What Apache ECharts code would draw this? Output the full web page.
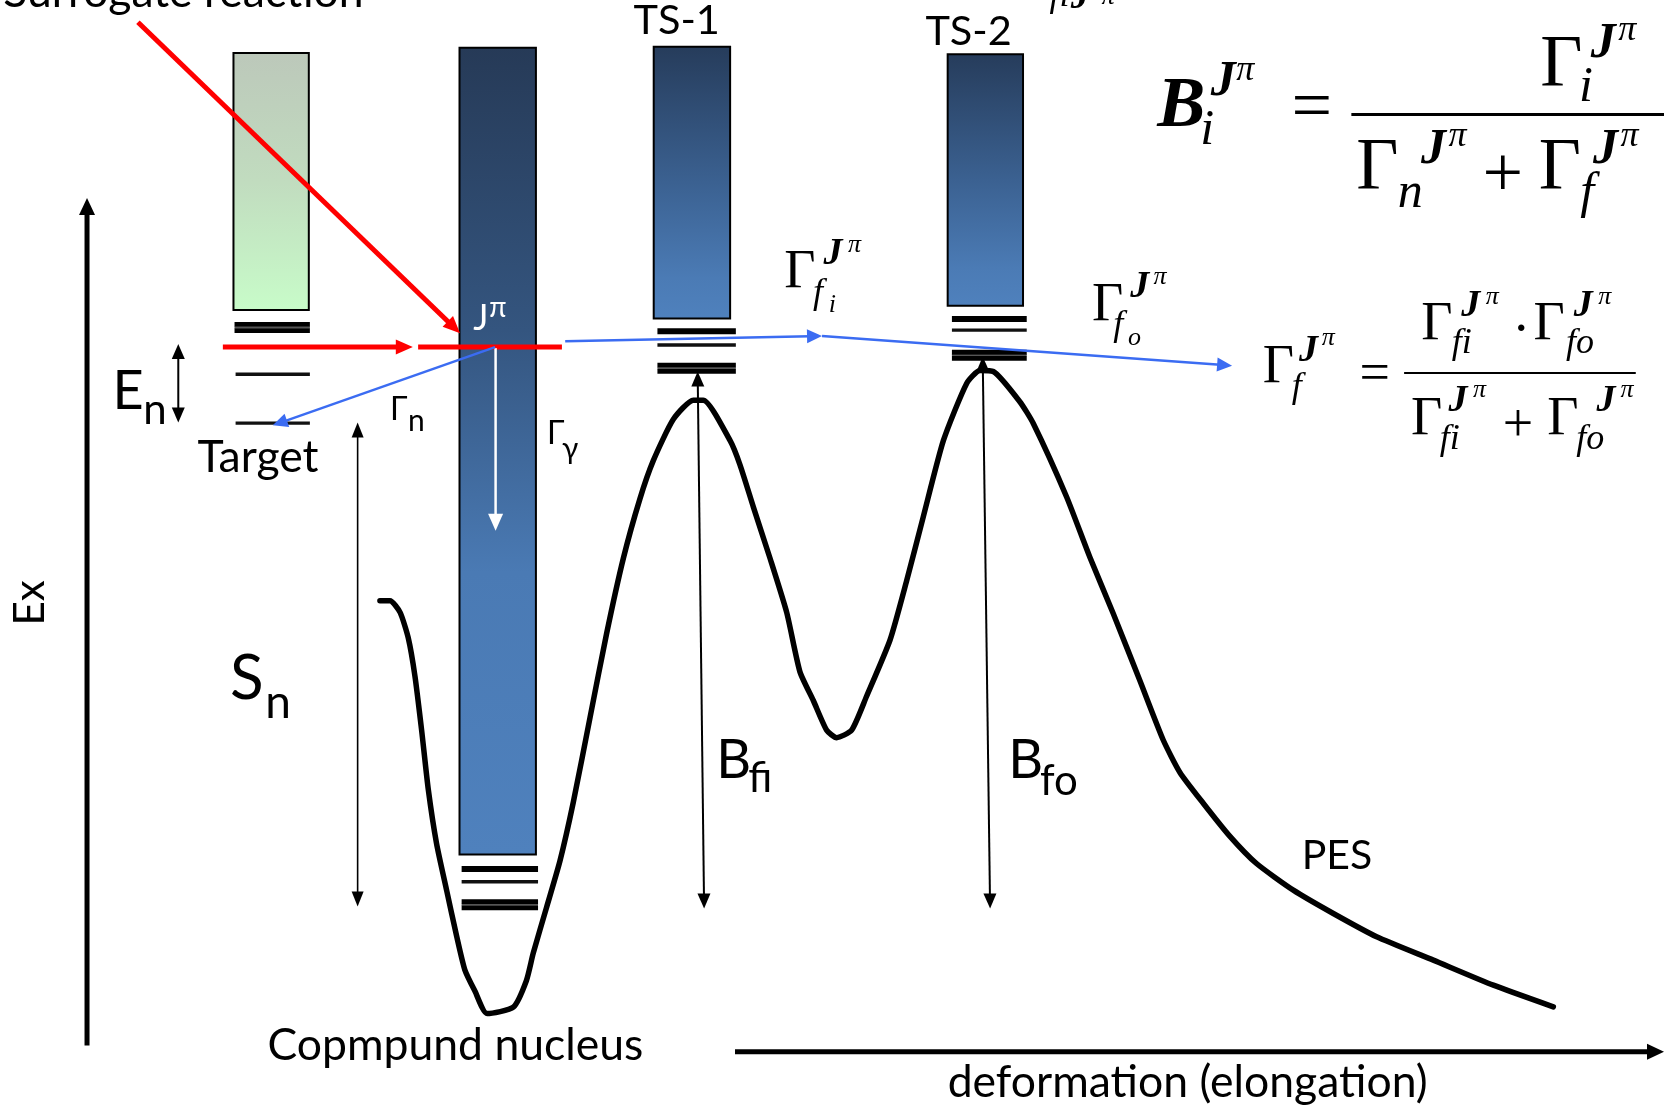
<!DOCTYPE html>
<html><head><meta charset="utf-8">
<script src="https://cdn.jsdelivr.net/npm/echarts@6/dist/echarts.min.js"></script>
<style>html,body{margin:0;padding:0;background:#fff;overflow:hidden}#c{width:1664px;height:1107px}</style>
</head><body><div id="c"></div>
<script>
// ---- diagram data (x: deformation, y: excitation, drawn downward) ----
const pesCurve = [[358,566],[367.5,566],[377,577],[384.7,601],[391,637],[397.3,688],[403.6,744],[411.4,795],[420.9,839],[430.3,882],[438.1,914],[447.6,934],[459,955],[483.7,949],[496,924],[502.5,898],[515,855],[527.7,811],[540.2,756],[556,676],[571.6,597],[587.4,526],[603,470],[615.6,434],[634.5,395],[653.3,377],[662.7,377],[687.9,415],[697.3,438],[710,478],[725.6,526],[741.3,577],[753.8,633],[766.4,660],[779,688],[788.4,695],[802.5,688],[816.6,656],[838.7,603],[854.4,547],[870,487],[889,415],[911,361],[923.5,349],[936,350],[961,378.5],[973.7,399],[1005,468],[1027,525],[1049,578],[1074,641],[1096,697],[1112,728],[1134,757],[1159,788],[1184,813.6],[1218.7,838.7],[1256.4,860.7],[1297.2,882.6],[1350.6,904.6],[1407.2,928.2],[1463.7,948.6]];

const boxTarget = [[220, 50, 291, 292]];
const boxCompound = [[433, 45, 505, 805]];
const boxTransition = [[616, 44, 688, 300], [893, 51, 964, 288]];

const levelsThin = [[222, 292, 352.6], [222, 292, 398.7], [435, 507, 830.8], [619.5, 693.4, 325], [897, 967.5, 311]];
const levelsThick = [[435, 507, 818.8], [619.5, 693.4, 312], [897, 967.5, 300.5]];
const levelsDouble = [[221, 292, 308.5], [435, 507, 852.5], [619.5, 693.4, 347], [897, 967.5, 334.8]];

// [x1, y1, x2, y2, heads]  heads: 0 none, 1 at end, 2 both ends
const axisArrows = [[82, 985, 82, 186.5, 1], [692.6, 991, 1568, 991, 1]];
const redArrows = [[130, 21, 433.5, 314, 1], [210, 327, 389, 327, 1], [394, 327, 529.5, 327, 0]];
const barrierArrows = [[168, 324, 168, 398, 2], [657.4, 350, 663.5, 856, 2], [926, 336, 933, 856, 2]];
const snArrows = [[337, 398, 337, 854, 2]];
const gammaArrows = [[467, 328, 467, 500, 1]];
const blueArrows = [[466.5, 327, 257, 400.7, 1], [532.6, 321.5, 774.6, 316.6, 1], [774.6, 316.6, 1161, 344.5, 1]];

// texts: [left x, baseline y, text]
const labelTexts = [[3, 9, 'Surrogate reaction'], [186, 447.5, 'Target'], [252, 1001, 'Copmpund nucleus'], [893, 1036, 'deformation (elongation)']];
const pesTexts = [[1226.6, 821, 'PES']];
const tsTexts = [[597, 35, 'TS-1'], [872, 44.5, 'TS-2']];
const exTexts = [[29, 568, 'Ex']];
const bigLetters = [[106, 389, 'E'], [675, 736, 'B'], [950, 736, 'B']];
const snLetter = [[216.7, 662.5, 'S']];
const bigSubs = [[135, 402, 'n'], [705, 749, 'fi'], [980, 751.5, 'fo']];
const snSub = [[250, 679, 'n']];
const widthLetters = [[367.5, 398, 'Γ'], [515.4, 420, 'Γ']];
const widthSubs = [[384.5, 407.5, 'n'], [529.6, 434.5, 'γ']];
const spinJ = [[446, 313, 'J']];
const spinPi = [[461, 300, 'π']];

const f1Bold = [[1090.5, 124, 'B']];
const f1Gamma = [[1451.5, 86, 'Γ'], [1278, 183, 'Γ'], [1450, 183, 'Γ']];
const f1Ops = [[1217, 127, '='], [1397, 190, '+']];
const f1SupJ = [[1141, 93, 'J'], [1499, 57, 'J'], [1339, 157, 'J'], [1501, 157, 'J']];
const f1Subs = [[1131, 139, 'i'], [1488, 99, 'i'], [1317, 199, 'n'], [1489, 199, 'f']];
const f1Pi = [[1165, 78, 'π'], [1525, 40, 'π'], [1365, 140, 'π'], [1527, 140, 'π']];

const f2Gamma = [[1190, 364, 'Γ'], [1339.2, 323.5, 'Γ'], [1445, 323.5, 'Γ'], [1329.6, 413, 'Γ'], [1458, 413, 'Γ'], [739, 274, 'Γ'], [1029, 305, 'Γ']];
const f2Ops = [[1281, 371, '='], [1425, 330, '·'], [1416, 419, '+']];
const f2SupJ = [[1224, 343, 'J'], [1377, 301, 'J'], [1483, 301, 'J'], [1365, 390, 'J'], [1504.5, 390, 'J'], [776, 252, 'J'], [1065, 283, 'J'], [1009, 10, 'J']];
const f2Subs = [[1217.2, 377, 'f'], [1368, 335, 'fi'], [1475.6, 335, 'fo'], [1356.8, 426, 'fi'], [1485.2, 426, 'fo'], [766, 288, 'f'], [1049, 318, 'f'], [989, 8, 'fi']];
const f2Small = [[1245.5, 327, 'π'], [1400, 288, 'π'], [1506, 288, 'π'], [1388, 376, 'π'], [1527, 376, 'π'], [799, 239, 'π'], [1087, 269, 'π'], [781, 296, 'i'], [1063, 327, 'o'], [1038, 6, 'π']];

// ---- rendering helpers ----
const SANS = "Lato, 'Noto Sans', sans-serif";
const SERIF = "'Liberation Serif', 'Times New Roman', serif";

function textSeries(arr, size, family, o) {
  o = o || {};
  const k = family === SERIF ? 0.3375 : 0.387;
  return {
    type: 'custom', coordinateSystem: 'cartesian2d', z: 10, silent: true, animation: false,
    encode: { x: 0, y: 1 },
    data: arr.map(d => [d[0], d[1]]),
    renderItem: (params, api) => {
      const d = arr[params.dataIndex];
      const p = api.coord([d[0], d[1]]);
      const style = { text: d[2], fontSize: size, fontFamily: family, fontStyle: o.italic ? 'italic' : 'normal', fontWeight: o.bold ? 'bold' : 'normal', fill: o.color || '#000' };
      if (o.rotate) {
        return { type: 'text', x: p[0], y: p[1], rotation: Math.PI / 2, style: Object.assign(style, { x: 0, y: 0, align: 'center', verticalAlign: 'middle' }) };
      }
      return { type: 'text', x: p[0], y: p[1] - k * size, style: Object.assign(style, { x: 0, y: 0, align: 'left', verticalAlign: 'middle' }) };
    }
  };
}

function arrowSeries(arr, color, width, headL, headW) {
  return {
    type: 'custom', coordinateSystem: 'cartesian2d', z: 6, silent: true, animation: false,
    encode: { x: [0, 2], y: [1, 3] }, data: arr,
    renderItem: (params, api) => {
      const a = api.coord([api.value(0), api.value(1)]);
      const b = api.coord([api.value(2), api.value(3)]);
      const heads = api.value(4);
      const dx = b[0] - a[0], dy = b[1] - a[1], len = Math.hypot(dx, dy);
      const ux = dx / len, uy = dy / len, nx = -uy, ny = ux;
      const tri = (tip, sx, sy) => {
        const bx = tip[0] - sx * headL, by = tip[1] - sy * headL;
        return { type: 'polygon', shape: { points: [tip, [bx + nx * headW / 2, by + ny * headW / 2], [bx - nx * headW / 2, by - ny * headW / 2]] }, style: { fill: color } };
      };
      const ch = [];
      let s = a, e = b;
      if (heads >= 1) { ch.push(tri(b, ux, uy)); e = [b[0] - ux * headL * 0.8, b[1] - uy * headL * 0.8]; }
      if (heads >= 2) { ch.push(tri(a, -ux, -uy)); s = [a[0] + ux * headL * 0.8, a[1] + uy * headL * 0.8]; }
      ch.unshift({ type: 'line', shape: { x1: s[0], y1: s[1], x2: e[0], y2: e[1] }, style: { stroke: color, lineWidth: width } });
      return { type: 'group', children: ch };
    }
  };
}

function levelSeries(arr, kind) {
  return {
    type: 'custom', coordinateSystem: 'cartesian2d', z: 3, silent: true, animation: false,
    encode: { x: [0, 1], y: 2 }, data: arr,
    renderItem: (params, api) => {
      const p0 = api.coord([api.value(0), api.value(2)]);
      const p1 = api.coord([api.value(1), api.value(2)]);
      const ln = (dy, w, c) => ({ type: 'line', shape: { x1: p0[0], y1: p0[1] + dy, x2: p1[0], y2: p1[1] + dy }, style: { stroke: c, lineWidth: w } });
      if (kind === 'thin') return ln(0, 3.4, '#111');
      if (kind === 'thick') return ln(0, 6, '#000');
      return { type: 'group', children: [ln(0, 2, '#555'), ln(-3.1, 4.8, '#000'), ln(3.1, 4.8, '#000')] };
    }
  };
}

function boxSeries(arr, stops) {
  return {
    type: 'custom', coordinateSystem: 'cartesian2d', z: 1, silent: true, animation: false,
    encode: { x: [0, 2], y: [1, 3] }, data: arr,
    renderItem: (params, api) => {
      const p0 = api.coord([api.value(0), api.value(1)]);
      const p1 = api.coord([api.value(2), api.value(3)]);
      return { type: 'rect', shape: { x: p0[0], y: p0[1], width: p1[0] - p0[0], height: p1[1] - p0[1] },
        style: { fill: new echarts.graphic.LinearGradient(0, 0, 0, 1, stops.map(c => ({ offset: c[0], color: c[1] }))), stroke: '#000', lineWidth: 2 } };
    }
  };
}

const chart = echarts.init(document.getElementById('c'), null, { renderer: 'canvas' });
chart.setOption({
  animation: false,
  backgroundColor: '#fff',
  grid: { left: 0, right: 0, top: 0, bottom: 0 },
  xAxis: { type: 'value', min: 0, max: 1568, show: false },
  yAxis: { type: 'value', min: 0, max: 1043, inverse: true, show: false },
  series: [
    boxSeries(boxTarget, [[0, '#bcc8ba'], [0.5, '#c1dcbf'], [1, '#c8fcc9']]),
    boxSeries(boxCompound, [[0, '#263a57'], [0.35, '#34557f'], [0.65, '#4a7ab4'], [1, '#4f81bd']]),
    boxSeries(boxTransition, [[0, '#263c5b'], [0.5, '#3b6191'], [0.85, '#4b7bb5'], [1, '#4f81bd']]),
    levelSeries(levelsThin, 'thin'),
    levelSeries(levelsThick, 'thick'),
    levelSeries(levelsDouble, 'double'),
    { type: 'line', data: pesCurve, z: 4, showSymbol: false, smooth: 0.2, silent: true,
      lineStyle: { color: '#000', width: 5.5, join: 'round', cap: 'round' } },
    arrowSeries(axisArrows, '#000', 5, 17, 16),
    arrowSeries(redArrows, '#ff0000', 5, 17, 15),
    arrowSeries(barrierArrows, '#000', 2, 15, 13),
    arrowSeries(snArrows, '#000', 1.6, 15, 12),
    arrowSeries(gammaArrows, '#ffffff', 2.5, 17, 15),
    arrowSeries(blueArrows, '#3b6cf2', 2.5, 15, 14),
    textSeries(labelTexts, 44.5, SANS),
    textSeries(pesTexts, 41, SANS),
    textSeries(tsTexts, 41.5, SANS),
    textSeries(exTexts, 42, SANS, { rotate: true }),
    textSeries(bigLetters, 54, SANS),
    textSeries(snLetter, 62, SANS),
    textSeries(bigSubs, 42, SANS),
    textSeries(snSub, 46, SANS),
    textSeries(widthLetters, 32, SANS),
    textSeries(widthSubs, 30, SANS),
    textSeries(spinJ, 36, SANS, { color: '#fff' }),
    textSeries(spinPi, 28, SANS, { color: '#fff' }),
    textSeries(f1Bold, 72, SERIF, { italic: true, bold: true }),
    textSeries(f1Gamma, 73, SERIF),
    textSeries(f1Ops, 72, SERIF),
    textSeries(f1SupJ, 50, SERIF, { italic: true, bold: true }),
    textSeries(f1Subs, 50, SERIF, { italic: true }),
    textSeries(f1Pi, 36, SERIF, { italic: true }),
    textSeries(f2Gamma, 54, SERIF),
    textSeries(f2Ops, 54, SERIF),
    textSeries(f2SupJ, 38, SERIF, { italic: true, bold: true }),
    textSeries(f2Subs, 36, SERIF, { italic: true }),
    textSeries(f2Small, 26, SERIF, { italic: true }),
    // fraction bars
    { type: 'lines', coordinateSystem: 'cartesian2d', z: 8, silent: true, symbol: 'none',
      lineStyle: { color: '#000', width: 3, opacity: 1 },
      data: [{ coords: [[1273.4, 107.5], [1568, 107.5]] }] },
    { type: 'lines', coordinateSystem: 'cartesian2d', z: 8, silent: true, symbol: 'none',
      lineStyle: { color: '#000', width: 2, opacity: 1 },
      data: [{ coords: [[1323.1, 351.1], [1541.4, 351.1]] }] }
  ]
});
</script>
</body></html>
